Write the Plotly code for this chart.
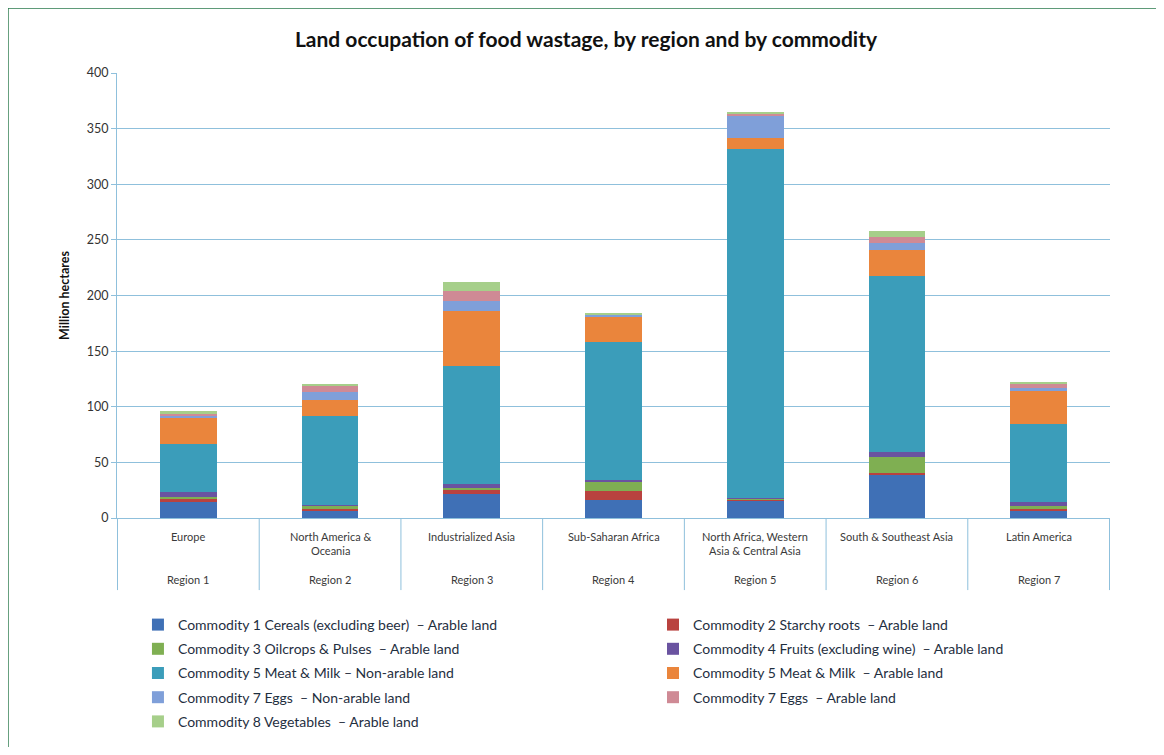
import plotly.graph_objects as go

# ---------------- data ----------------
regions = ["Region 1", "Region 2", "Region 3", "Region 4", "Region 5", "Region 6", "Region 7"]
region_names = ["Europe", "North America &<br>Oceania", "Industrialized Asia", "Sub-Saharan Africa",
                "North Africa, Western<br>Asia & Central Asia", "South & Southeast Asia", "Latin America"]

cereals = [14, 7, 22, 16, 16, 39, 6]
starchy_roots = [3.5, 1, 4, 8.5, 0.5, 1.5, 2]
oilcrops = [1.5, 3, 1, 8.5, 1, 14.5, 2.5]
fruits = [4.5, 1, 4, 1, 0.5, 4.5, 3.5]
meat_nonarable = [43, 80, 106, 124, 314, 158, 70.5]
meat_arable = [23.5, 14.5, 49.5, 23.5, 10, 23, 29.5]
eggs_nonarable = [1.5, 6.5, 9, 1, 20, 7, 2.5]
eggs_arable = [2, 6, 8.5, 0.5, 1.5, 5.5, 4.5]
vegetables = [2.5, 1.5, 8.5, 1.5, 1.5, 5, 1]

series_names = [
    "Commodity 1 Cereals (excluding beer)  – Arable land",
    "Commodity 2 Starchy roots  – Arable land",
    "Commodity 3 Oilcrops & Pulses  – Arable land",
    "Commodity 4 Fruits (excluding wine)  – Arable land",
    "Commodity 5 Meat & Milk – Non-arable land",
    "Commodity 5 Meat & Milk  – Arable land",
    "Commodity 7 Eggs  – Non-arable land",
    "Commodity 7 Eggs  – Arable land",
    "Commodity 8 Vegetables  – Arable land",
]
series_values = [cereals, starchy_roots, oilcrops, fruits, meat_nonarable,
                 meat_arable, eggs_nonarable, eggs_arable, vegetables]
colors = ["#3F70B6", "#B9423F", "#7FAF52", "#6A53A0", "#3B9DBA",
          "#EA853C", "#7F9FD9", "#CF8A95", "#A6CF8A"]

FONT = "Lato"
GRID = "#8FC0DC"

fig = go.Figure()
for i, (name, vals, col) in enumerate(zip(series_names, series_values, colors)):
    fig.add_trace(go.Bar(
        x=regions, y=vals, name=name,
        marker=dict(color=col, line=dict(width=0)),
        legend="legend" if i % 2 == 0 else "legend2",
        legendgroup="g%d" % i,
    ))

# x-axis category labels (two levels) and dividers
annotations = []
for r, nm in zip(regions, region_names):
    annotations.append(dict(x=r, xref="x", y=-0.022, yref="paper", text=nm,
                            showarrow=False, yanchor="top", xanchor="center",
                            font=dict(family=FONT, size=11, color="#3a3a3a")))
    annotations.append(dict(x=r, xref="x", y=-0.139, yref="paper", text=r,
                            showarrow=False, yanchor="middle", xanchor="center",
                            font=dict(family=FONT, size=11, color="#3a3a3a")))

shapes = []
for k in range(len(regions) + 1):
    shapes.append(dict(type="line", xref="x", yref="paper", x0=k - 0.5, x1=k - 0.5,
                       y0=0, y1=-0.162, line=dict(color=GRID, width=1)))
# outer green frame
frame = dict(color="#2A7A4C", width=1.5)
shapes.append(dict(type="line", xref="paper", yref="paper", x0=-0.1098, x1=-0.1098, y0=1.146, y1=-0.6, line=frame))
shapes.append(dict(type="line", xref="paper", yref="paper", x0=1.0493, x1=1.0493, y0=1.146, y1=-0.6, line=frame))
shapes.append(dict(type="line", xref="paper", yref="paper", x0=-0.1098, x1=1.0493, y0=1.146, y1=1.146, line=frame))

W, H = 1148, 739
fig.update_layout(
    barmode="stack",
    bargap=0.6,
    width=W, height=H,
    margin=dict(l=109, r=46, t=65, b=229),
    paper_bgcolor="white", plot_bgcolor="white",
    font=dict(family=FONT, color="#222222"),
    title=dict(text="<b>Land occupation of food wastage, by region and by commodity</b>",
               x=578 / W, xref="container", xanchor="center",
               y=1 - 32 / H, yref="container", yanchor="middle",
               font=dict(family=FONT, size=21, color="#111111")),
    xaxis=dict(showticklabels=False, ticks="", showgrid=False, showline=True,
               linecolor=GRID, linewidth=1, zeroline=False),
    yaxis=dict(range=[0, 400], dtick=50, showgrid=True, gridcolor=GRID, gridwidth=1,
               showline=True, linecolor=GRID, linewidth=1, zeroline=False,
               ticks="outside", ticklen=5, tickcolor=GRID,
               tickfont=dict(family=FONT, size=12.5, color="#333333"),
               title=dict(text="<b>Million hectares</b>", standoff=14,
                          font=dict(family=FONT, size=12.5, color="#111111"))),
    legend=dict(x=0.0211, xref="paper", y=1 - 601 / H, yref="container",
                xanchor="left", yanchor="top", orientation="v",
                tracegroupgap=3, font=dict(family=FONT, size=14, color="#1f2f3f"),
                bgcolor="rgba(0,0,0,0)"),
    legend2=dict(x=0.5398, xref="paper", y=1 - 601 / H, yref="container",
                 xanchor="left", yanchor="top", orientation="v",
                 tracegroupgap=3, font=dict(family=FONT, size=14, color="#1f2f3f"),
                 bgcolor="rgba(0,0,0,0)"),
    annotations=annotations,
    shapes=shapes,
    showlegend=True,
)

fig.write_html("out.html")
